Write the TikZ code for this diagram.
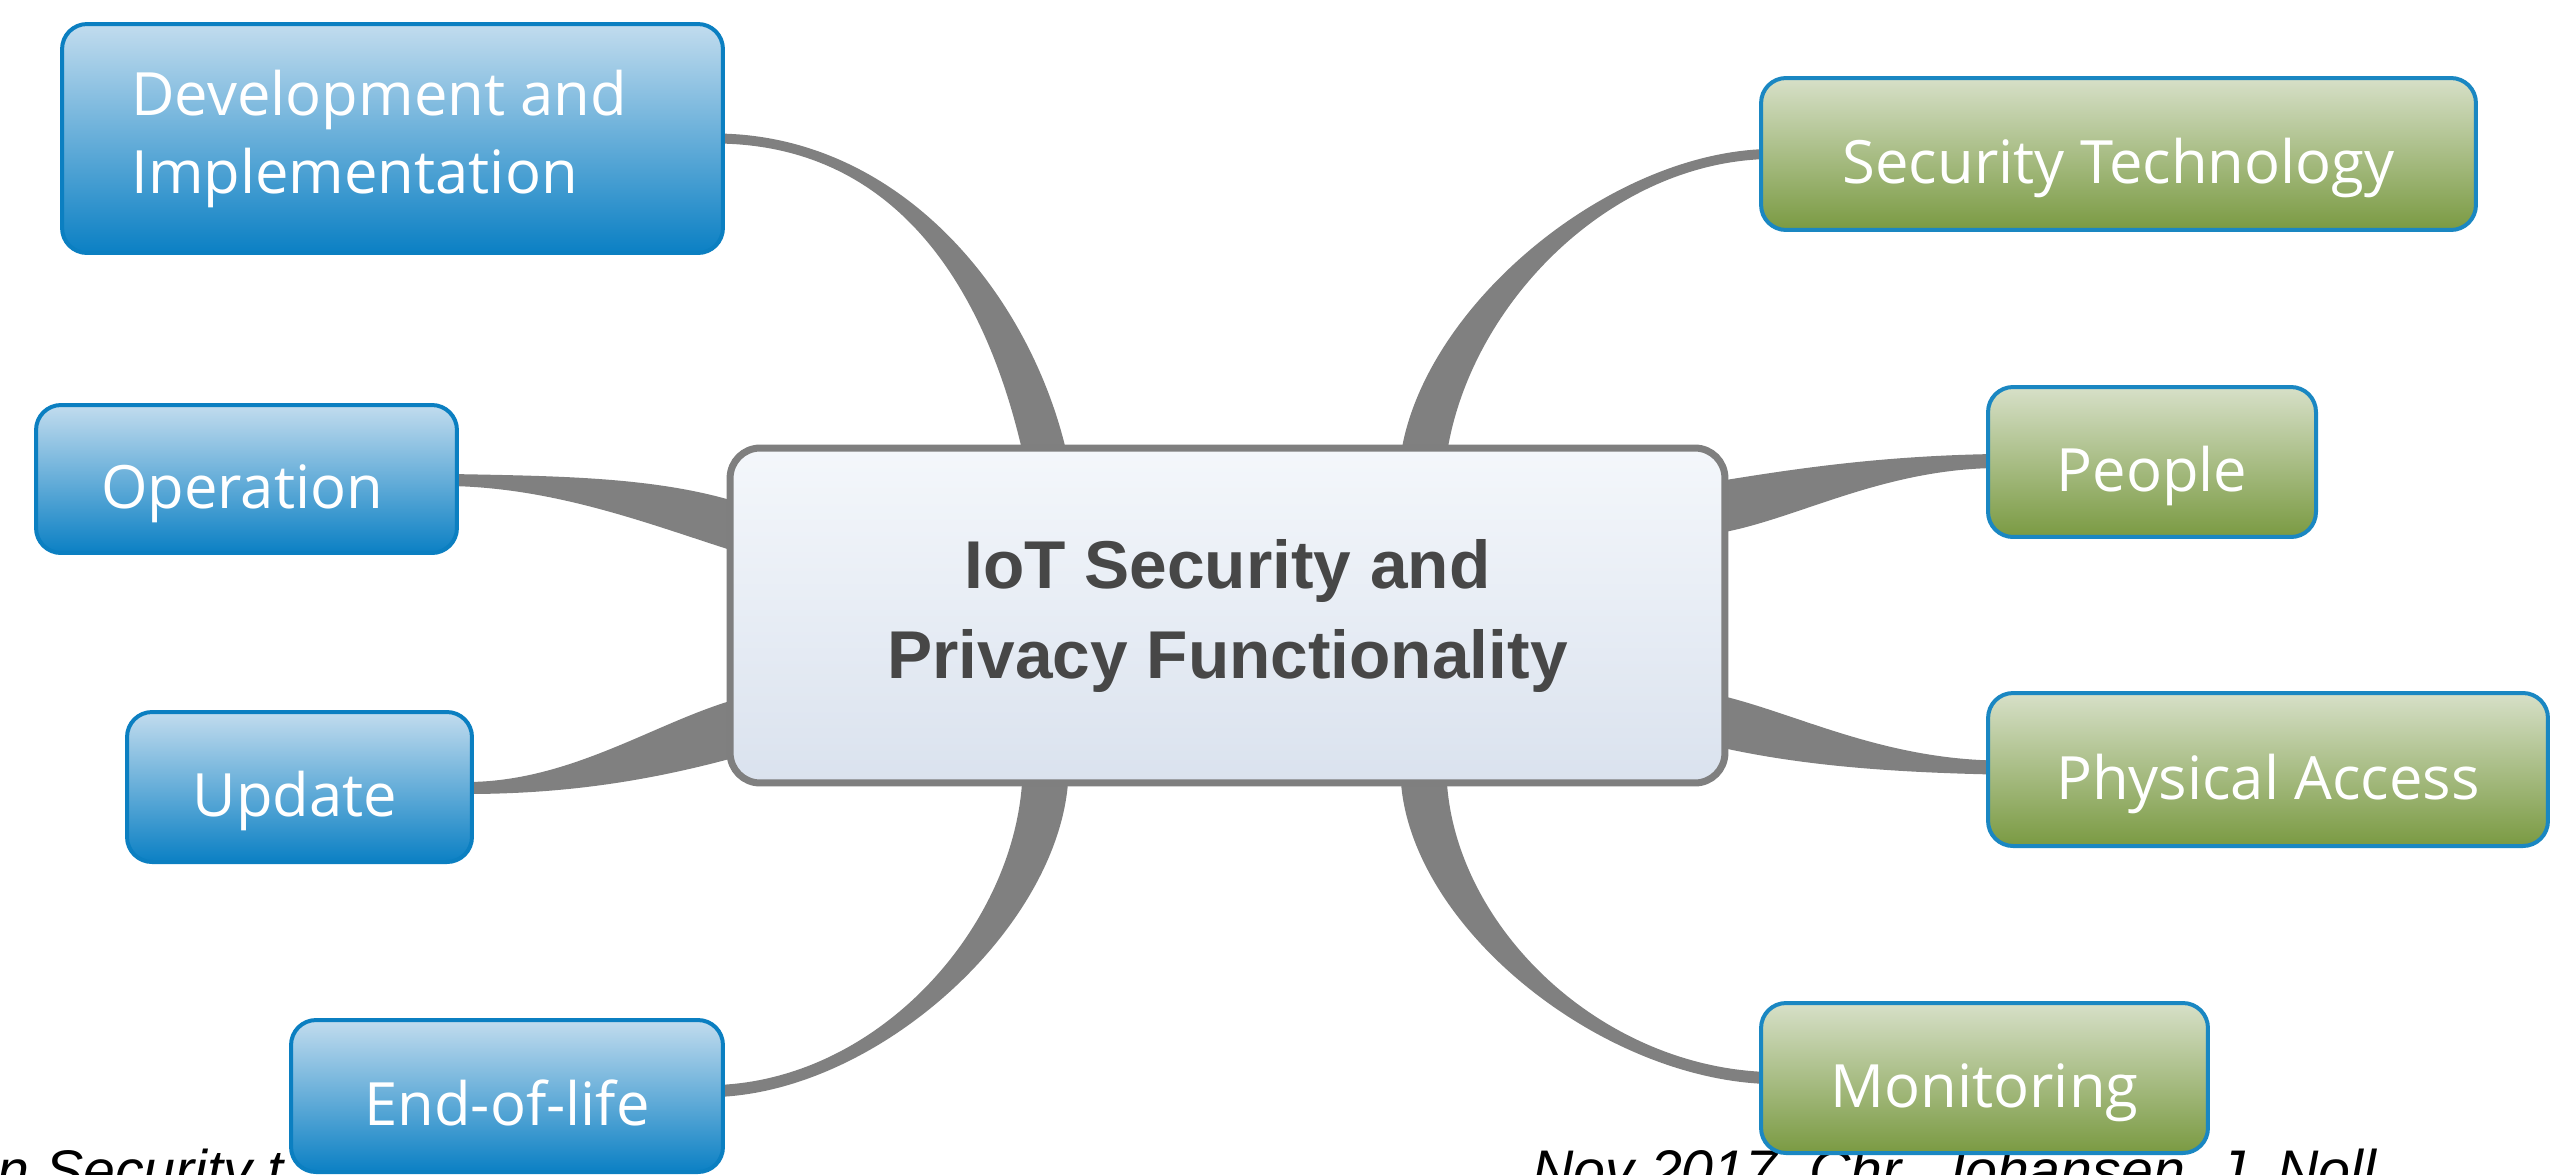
\documentclass[tikz,border=0pt]{standalone}
\usepackage{fontspec}
\usetikzlibrary{calc}
\newfontfamily\leaffont{Open Sans}
\newfontfamily\ctrfont{Liberation Sans}
\newfontfamily\footfont{Liberation Sans}
\definecolor{blueTop}{HTML}{C2DCEE}
\definecolor{blueBot}{HTML}{0B80C4}
\definecolor{blueLine}{HTML}{0B7FC1}
\definecolor{greenTop}{HTML}{D7E0C8}
\definecolor{greenBot}{HTML}{7A9A42}
\definecolor{greenLine}{HTML}{1A87C2}
\definecolor{ctrTop}{HTML}{F4F7FB}
\definecolor{ctrBot}{HTML}{DAE2EE}
\definecolor{ctrLine}{HTML}{7F7F7F}
\definecolor{connGray}{HTML}{808080}
\definecolor{ctrText}{HTML}{474747}
\pgfdeclarelayer{bg}
\pgfsetlayers{bg,main}
\newcommand\taper[6]{%
  \fill[conn] ($(#1)+(#5)$) .. controls ($(#1)+(#3)+(#5)$) and ($(#2)+(#4)+(#6)$) .. ($(#2)+(#6)$)
  -- ($(#2)-(#6)$) .. controls ($(#2)+(#4)-(#6)$) and ($(#1)+(#3)-(#5)$) .. ($(#1)-(#5)$) -- cycle;}
\begin{document}
\begin{tikzpicture}[x=0.02cm,y=-0.02cm,
  conn/.style={fill=connGray},
  leafbox/.style={rectangle, rounded corners=0.5cm, line width=0.08cm, inner sep=0pt,
    text=white, font=\leaffont\fontsize{34}{44.5}\selectfont, text height=34pt, text depth=0pt},
  bluebox/.style={leafbox, draw=blueLine, top color=blueTop, bottom color=blueBot},
  greenbox/.style={leafbox, draw=greenLine, top color=greenTop, bottom color=greenBot},
  ctrbox/.style={rectangle, rounded corners=0.6cm, line width=0.14cm, inner sep=0pt,
    draw=ctrLine, top color=ctrTop, bottom color=ctrBot, text=ctrText,
    font=\ctrfont\bfseries\fontsize{38.5}{51}\selectfont},
  foottext/.style={anchor=base west, inner sep=0pt, text=black,
    font=\footfont\itshape\fontsize{32.6}{38}\selectfont}]
\useasboundingbox (0,0) rectangle (2561,1174);
\clip (0,0) rectangle (2561,1174);

% nodes
\node[ctrbox, minimum width=19.9cm, minimum height=6.7cm] (ctr) at (1227.5,615.5)
  {\raisebox{-7.5pt}{\begin{tabular}{@{}c@{}}IoT Security and\\Privacy Functionality\end{tabular}}};
\node[bluebox, minimum width=13.22cm, minimum height=4.58cm, text height=, text depth=] (dev) at (392.5,138.5)
  {\raisebox{-6.5pt}{\begin{tabular}{@{}l@{}}Development and\\Implementation\end{tabular}}\kern15pt};
\node[bluebox, minimum width=8.42cm, minimum height=2.96cm] (op) at (246.5,479) {Operation\kern5pt};
\node[bluebox, minimum width=6.9cm, minimum height=3.0cm] (upd) at (299.5,787) {Update\kern5pt};
\node[bluebox, minimum width=8.64cm, minimum height=3.04cm] (eol) at (507,1096) {End-of-life};
\node[greenbox, minimum width=14.3cm, minimum height=3.04cm] (sec) at (2118.5,154) {Security Technology};
\node[greenbox, minimum width=6.56cm, minimum height=3.0cm] (ppl) at (2152,462) {People};
\node[greenbox, minimum width=11.2cm, minimum height=3.06cm] (phy) at (2268,769.5) {Physical Access};
\node[greenbox, minimum width=8.94cm, minimum height=3.0cm] (mon) at (1984.5,1078) {Monitoring};

% connector end points
\coordinate (lDev) at ($(dev.east)+(-8,0)$);
\coordinate (cDev) at ($(ctr.north)+(-182,12)$);
\coordinate (lSec) at ($(sec.west)+(8,0)$);
\coordinate (cSec) at ($(ctr.north)+(196,12)$);
\coordinate (lOp) at ($(op.east)+(-8,1)$);
\coordinate (cOp) at ($(ctr.west)+(12,-88)$);
\coordinate (lUpd) at ($(upd.east)+(-8,1)$);
\coordinate (cUpd) at ($(ctr.west)+(12,112)$);
\coordinate (lEol) at ($(eol.east)+(-8,-5)$);
\coordinate (cEol) at ($(ctr.south)+(-182,-12)$);
\coordinate (lMon) at ($(mon.west)+(8,0)$);
\coordinate (cMon) at ($(ctr.south)+(196,-12)$);
\coordinate (lPpl) at ($(ppl.west)+(8,-1)$);
\coordinate (cPpl) at ($(ctr.east)+(-12,-108)$);
\coordinate (lPhy) at ($(phy.west)+(8,-2)$);
\coordinate (cPhy) at ($(ctr.east)+(-12,105)$);

\begin{pgfonlayer}{bg}
  \fill[white] (0,0) rectangle (2561,1174);
  \node[foottext] (ftl) at (-3,1190) {n Security t};
  \node[foottext] (ftr) at (1532,1190) {Nov 2017, Chr. Johansen, J. Noll};
  \taper{lDev}{cDev}{185,1.5}{-35.5,-160}{0,-5}{22,0}
  \taper{lSec}{cSec}{-159,4}{21.5,-150}{0,-5}{-23,0}
  \taper{lOp}{cOp}{109,2}{-82,-25.5}{0,6}{0,25}
  \taper{lUpd}{cUpd}{106,0}{-82,22.5}{0,-6}{0,-29}
  \taper{lEol}{cEol}{165,-6}{-5.5,148.5}{0,6}{23,0}
  \taper{lMon}{cMon}{-170,-6}{5,148.5}{0,6}{-23,0}
  \taper{lPpl}{cPpl}{-116,2}{77,-12.5}{0,-7}{0,-26}
  \taper{lPhy}{cPhy}{-116,-2.5}{77,17.5}{0,7}{0,26}
\end{pgfonlayer}
\end{tikzpicture}
\end{document}
